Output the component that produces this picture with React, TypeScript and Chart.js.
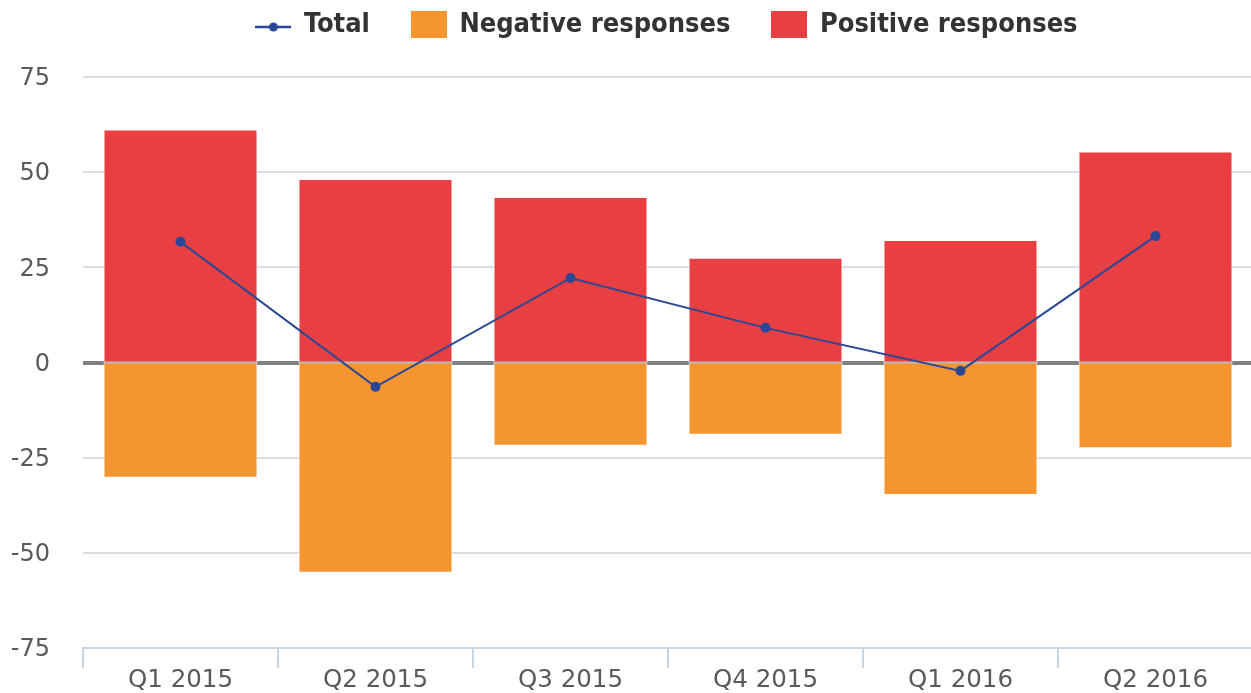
import React, { useEffect, useRef } from "react";
import { Chart, registerables } from "chart.js";

Chart.register(...registerables);

const categories = ["Q1 2015", "Q2 2015", "Q3 2015", "Q4 2015", "Q1 2016", "Q2 2016"];
const positiveResponses = [61.2, 48.2, 43.5, 27.5, 32.2, 55.4];
const negativeResponses = [-30.3, -55.2, -21.9, -19.0, -34.8, -22.5];
const totalValues = [31.7, -6.4, 22.2, 9.1, -2.2, 33.2];
const yTicks = [-75, -50, -25, 0, 25, 50, 75];

const BLUE = "#2a4797";
const ORANGE = "#f5952f";
const RED = "#e84042";
const FONT = "'DejaVu Sans', sans-serif";

function pickLegendFont() {
  try {
    const ctx = document.createElement("canvas").getContext("2d")!;
    ctx.font = "bold 27px 'DejaVu Sans Condensed', monospace";
    const w1 = ctx.measureText("Negative responses").width;
    ctx.font = "bold 27px monospace";
    const w2 = ctx.measureText("Negative responses").width;
    if (Math.abs(w1 - w2) > 0.5) {
      return { family: "'DejaVu Sans Condensed', 'DejaVu Sans', sans-serif", size: 27 };
    }
  } catch (e) {}
  return { family: FONT, size: 24 };
}

function makeSymbol(kind: "line" | "box", color: string) {
  const c = document.createElement("canvas");
  c.width = 36;
  c.height = 28;
  const ctx = c.getContext("2d")!;
  if (kind === "box") {
    ctx.fillStyle = color;
    ctx.fillRect(0, 0, 36, 27);
  } else {
    ctx.strokeStyle = color;
    ctx.lineWidth = 2.5;
    ctx.beginPath();
    ctx.moveTo(0, 16);
    ctx.lineTo(36, 16);
    ctx.stroke();
    ctx.fillStyle = color;
    ctx.beginPath();
    ctx.arc(18, 16, 4.5, 0, Math.PI * 2);
    ctx.fill();
  }
  return c;
}

const LEGEND_PAD = 42;

export default function App() {
  const ref = useRef<HTMLCanvasElement | null>(null);

  useEffect(() => {
    if (!ref.current) return;
    const lf = pickLegendFont();
    const symbols = [makeSymbol("line", BLUE), makeSymbol("box", ORANGE), makeSymbol("box", RED)];
    const legendFix = {
      id: "legendFix",
      beforeInit(chart: any) {
        const lg = chart.legend;
        if (lg) {
          const orig = lg.fit;
          lg.fit = function () {
            orig.call(this);
            this.height = 77;
          };
        }
      },
      afterLayout(chart: any) {
        const lg = chart.legend;
        if (lg) {
          lg.top = 25 - lf.size / 2 - LEGEND_PAD;
          lg.left = chart.chartArea.left - 1;
          lg.right = chart.chartArea.right - 1;
          lg.width = lg.right - lg.left;
        }
      },
    };
    const zeroLine = {
      id: "zeroLine",
      beforeDatasetsDraw(chart: any) {
        const { ctx, chartArea, scales } = chart;
        const y = Math.round(scales.y.getPixelForValue(0));
        ctx.save();
        ctx.strokeStyle = "#808080";
        ctx.lineWidth = 4;
        ctx.beginPath();
        ctx.moveTo(chartArea.left, y);
        ctx.lineTo(chartArea.right, y);
        ctx.stroke();
        ctx.restore();
      },
    };
    const chart = new Chart(ref.current, {
      type: "bar",
      data: {
        labels: categories,
        datasets: [
          {
            type: "line",
            label: "Total",
            data: totalValues,
            borderColor: BLUE,
            backgroundColor: BLUE,
            pointBackgroundColor: BLUE,
            pointBorderColor: BLUE,
            borderWidth: 2,
            pointRadius: 4,
            order: 0,
            stack: "line",
          } as any,
          {
            label: "Negative responses",
            data: negativeResponses,
            backgroundColor: ORANGE,
            borderColor: "#ffffff",
            borderWidth: 1,
            borderSkipped: false,
            barPercentage: 0.79,
            categoryPercentage: 1,
            order: 1,
            stack: "bars",
          },
          {
            label: "Positive responses",
            data: positiveResponses,
            backgroundColor: RED,
            borderColor: "#ffffff",
            borderWidth: 1,
            borderSkipped: false,
            barPercentage: 0.79,
            categoryPercentage: 1,
            order: 1,
            stack: "bars",
          },
        ],
      },
      options: {
        animation: false,
        responsive: false,
        devicePixelRatio: 1,
        layout: { padding: 0 },
        plugins: {
          tooltip: { enabled: false },
          legend: {
            position: "top",
            labels: {
              usePointStyle: true,
              pointStyleWidth: 34,
              boxHeight: lf.size,
              padding: LEGEND_PAD,
              color: "#333333",
              font: { family: lf.family, size: lf.size, weight: "bold" },
              generateLabels: (chart: any) =>
                chart.data.datasets.map((ds: any, i: number) => ({
                  text: ds.label,
                  datasetIndex: i,
                  pointStyle: symbols[i],
                  fillStyle: "transparent",
                  strokeStyle: "transparent",
                  lineWidth: 0,
                  fontColor: "#333333",
                  hidden: false,
                  rotation: 0,
                })),
            },
          },
        },
        scales: {
          x: {
            stacked: true,
            offset: true,
            grid: {
              offset: true,
              drawOnChartArea: false,
              drawTicks: true,
              tickLength: 20,
              color: "#c7d4e3",
              lineWidth: 2,
            },
            border: { display: true, color: "#c7d4e3", width: 2 },
            ticks: {
              color: "#5a5a5a",
              padding: -2.4,
              font: { family: FONT, size: 24.5 },
            },
            afterFit: (scale: any) => {
              scale.height = 45;
            },
          },
          y: {
            stacked: true,
            min: -75,
            max: 75,
            afterBuildTicks: (scale: any) => {
              scale.ticks = yTicks.map((v) => ({ value: v }));
            },
            grid: {
              drawTicks: false,
              color: (ctx: any) => (ctx.tick && ctx.tick.value === 0 ? "rgba(0,0,0,0)" : "#d9dde2"),
              lineWidth: (ctx: any) => (ctx.tick && ctx.tick.value === 0 ? 0 : 2),
            },
            border: { display: false },
            ticks: {
              color: "#5a5a5a",
              padding: 33,
              labelOffset: 2,
              font: { family: FONT, size: 24 },
            },
            afterFit: (scale: any) => {
              scale.width = 83;
              scale.paddingTop = 14;
              scale.paddingBottom = 14;
            },
          },
        },
      },
      plugins: [legendFix, zeroLine],
    });
    return () => chart.destroy();
  }, []);

  return (
    <div style={{ position: "fixed", left: 0, top: 0, width: 1251, height: 693, overflow: "hidden", background: "#fff" }}>
      <canvas ref={ref} width={1259} height={693} style={{ display: "block", width: 1259, height: 693 }} />
    </div>
  );
}
